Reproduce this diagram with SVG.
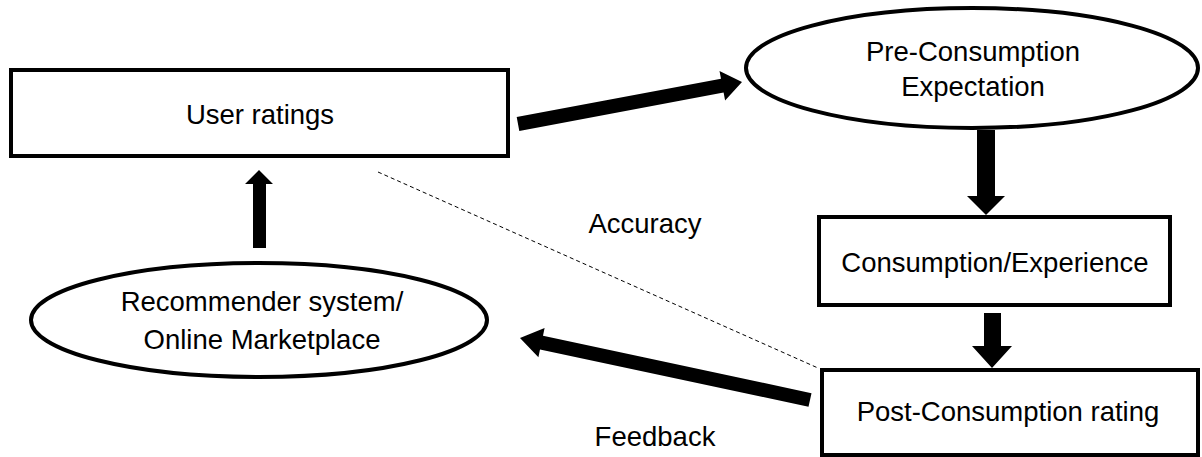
<svg xmlns="http://www.w3.org/2000/svg" width="1202" height="457" viewBox="0 0 1202 457">
<style>
.box{fill:#fff;stroke:#000;stroke-width:4}
.t{font-family:"Liberation Sans",Arial,sans-serif;font-size:27.5px;fill:#000;text-anchor:middle}
.arr{fill:#000;stroke:none}
.dash{stroke:#000;stroke-width:1;stroke-dasharray:4 3;fill:none}
</style>
<rect width="1202" height="457" fill="#fff"/>
<g id="connectors">
<line class="dash" x1="378" y1="172" x2="818" y2="368"/>
<polygon class="arr" points="516.7,117.1 721.0,78.8 719.5,71.0 742,82 725.1,100.4 723.6,92.6 519.3,130.9"/>
<polygon class="arr" points="977,130 995,130 995,196 1005,196 986,215 967,196 977,196"/>
<polygon class="arr" points="984,313 1001,313 1001,346 1012,346 992,368 972,346 984,346"/>
<polygon class="arr" points="811.5,393.2 543.0,335.8 544.6,327.9 520,338 538.4,357.3 540.0,349.4 808.5,406.8"/>
<polygon class="arr" points="253,248 266,248 266,184 273,184 259,170 245,184 253,184"/>
<text class="t" x="645" y="233">Accuracy</text>
<text class="t" x="655" y="446">Feedback</text>
</g>
<g id="user-ratings">
<rect class="box" x="11" y="70" width="497" height="86"/>
<text class="t" x="260" y="124">User ratings</text>
</g>
<g id="pre-consumption">
<ellipse class="box" cx="972" cy="68" rx="226" ry="60"/>
<text class="t" x="973" y="61">Pre-Consumption</text>
<text class="t" x="973" y="96">Expectation</text>
</g>
<g id="consumption">
<rect class="box" x="819" y="217" width="351" height="88"/>
<text class="t" x="995" y="272">Consumption/Experience</text>
</g>
<g id="post-consumption">
<rect class="box" x="822" y="370" width="376" height="85"/>
<text class="t" x="1008" y="421">Post-Consumption rating</text>
</g>
<g id="recommender">
<ellipse class="box" cx="259" cy="320" rx="228" ry="57"/>
<text class="t" x="262" y="311">Recommender system/</text>
<text class="t" x="262" y="349">Online Marketplace</text>
</g>
</svg>
